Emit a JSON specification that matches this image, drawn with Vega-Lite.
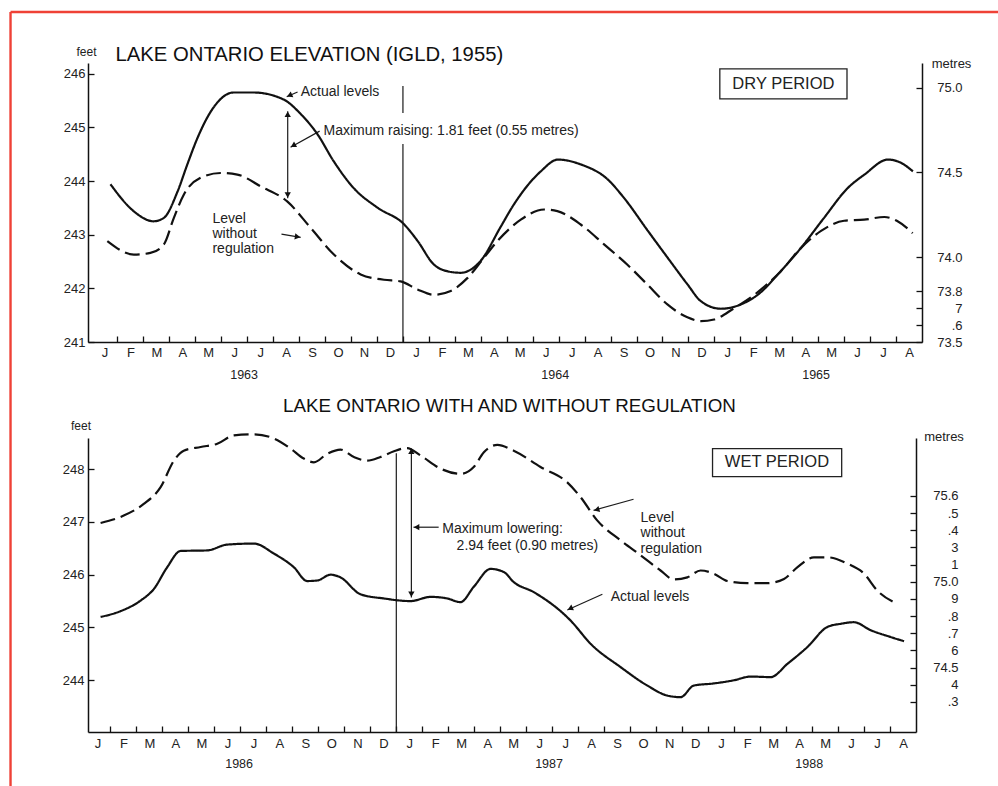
{
  "$schema": "https://vega.github.io/schema/vega-lite/v6.json",
  "padding": {"left": 9, "top": 10, "right": 0, "bottom": 0},
  "background": "white",
  "spacing": 96,
  "bounds": "flush",
  "config": {
    "font": "Liberation Sans",
    "view": {"stroke": null},
    "axis": {
      "grid": false,
      "domainColor": "#111",
      "domainWidth": 1.5,
      "tickColor": "#111",
      "tickWidth": 1.3,
      "labelColor": "#222",
      "titleColor": "#222",
      "labelFont": "Liberation Sans",
      "titleFont": "Liberation Sans",
      "titleFontWeight": "normal",
      "labelFlush": false,
      "labelOverlap": false,
      "labelBound": false
    },
    "title": {"font": "Liberation Sans", "fontWeight": "normal", "color": "#111"}
  },
  "datasets": {
    "top_lines": [
      {"series": "Actual levels", "m": 0.73, "f": 243.94},
      {"series": "Actual levels", "m": 1.62, "f": 243.44},
      {"series": "Actual levels", "m": 2.39, "f": 243.25},
      {"series": "Actual levels", "m": 2.78, "f": 243.31},
      {"series": "Actual levels", "m": 3.32, "f": 243.81},
      {"series": "Actual levels", "m": 3.7, "f": 244.32},
      {"series": "Actual levels", "m": 4.09, "f": 244.81},
      {"series": "Actual levels", "m": 4.7, "f": 245.37},
      {"series": "Actual levels", "m": 5.47, "f": 245.65},
      {"series": "Actual levels", "m": 6.25, "f": 245.65},
      {"series": "Actual levels", "m": 7.4, "f": 245.52},
      {"series": "Actual levels", "m": 8.06, "f": 245.25},
      {"series": "Actual levels", "m": 8.71, "f": 244.87},
      {"series": "Actual levels", "m": 9.33, "f": 244.37},
      {"series": "Actual levels", "m": 10.1, "f": 243.87},
      {"series": "Actual levels", "m": 11.03, "f": 243.5},
      {"series": "Actual levels", "m": 12.03, "f": 243.2},
      {"series": "Actual levels", "m": 12.57, "f": 242.88},
      {"series": "Actual levels", "m": 13.18, "f": 242.45},
      {"series": "Actual levels", "m": 13.7, "f": 242.32},
      {"series": "Actual levels", "m": 14.22, "f": 242.29},
      {"series": "Actual levels", "m": 14.99, "f": 242.51},
      {"series": "Actual levels", "m": 15.77, "f": 243.15},
      {"series": "Actual levels", "m": 16.27, "f": 243.56},
      {"series": "Actual levels", "m": 17.31, "f": 244.18},
      {"series": "Actual levels", "m": 17.97, "f": 244.4},
      {"series": "Actual levels", "m": 18.85, "f": 244.31},
      {"series": "Actual levels", "m": 19.89, "f": 244.03},
      {"series": "Actual levels", "m": 20.51, "f": 243.69},
      {"series": "Actual levels", "m": 21.44, "f": 243.07},
      {"series": "Actual levels", "m": 22.2, "f": 242.57},
      {"series": "Actual levels", "m": 22.97, "f": 242.07},
      {"series": "Actual levels", "m": 23.48, "f": 241.76},
      {"series": "Actual levels", "m": 24.25, "f": 241.62},
      {"series": "Actual levels", "m": 25.02, "f": 241.7},
      {"series": "Actual levels", "m": 25.67, "f": 241.88},
      {"series": "Actual levels", "m": 26.56, "f": 242.32},
      {"series": "Actual levels", "m": 27.33, "f": 242.75},
      {"series": "Actual levels", "m": 28.22, "f": 243.31},
      {"series": "Actual levels", "m": 29.14, "f": 243.87},
      {"series": "Actual levels", "m": 29.78, "f": 244.12},
      {"series": "Actual levels", "m": 30.69, "f": 244.4},
      {"series": "Actual levels", "m": 31.19, "f": 244.34},
      {"series": "Actual levels", "m": 31.65, "f": 244.18},
      {"series": "Level without regulation", "m": 0.61, "f": 242.88},
      {"series": "Level without regulation", "m": 1.63, "f": 242.63},
      {"series": "Level without regulation", "m": 2.27, "f": 242.66},
      {"series": "Level without regulation", "m": 2.79, "f": 242.82},
      {"series": "Level without regulation", "m": 3.17, "f": 243.31},
      {"series": "Level without regulation", "m": 3.56, "f": 243.75},
      {"series": "Level without regulation", "m": 4.2, "f": 244.06},
      {"series": "Level without regulation", "m": 4.97, "f": 244.15},
      {"series": "Level without regulation", "m": 5.62, "f": 244.12},
      {"series": "Level without regulation", "m": 6.52, "f": 243.9},
      {"series": "Level without regulation", "m": 7.54, "f": 243.62},
      {"series": "Level without regulation", "m": 8.44, "f": 243.13},
      {"series": "Level without regulation", "m": 9.34, "f": 242.63},
      {"series": "Level without regulation", "m": 10.37, "f": 242.26},
      {"series": "Level without regulation", "m": 11.27, "f": 242.16},
      {"series": "Level without regulation", "m": 11.91, "f": 242.13},
      {"series": "Level without regulation", "m": 12.56, "f": 241.98},
      {"series": "Level without regulation", "m": 13.2, "f": 241.88},
      {"series": "Level without regulation", "m": 13.84, "f": 241.95},
      {"series": "Level without regulation", "m": 14.48, "f": 242.19},
      {"series": "Level without regulation", "m": 15.12, "f": 242.57},
      {"series": "Level without regulation", "m": 15.64, "f": 242.88},
      {"series": "Level without regulation", "m": 16.54, "f": 243.28},
      {"series": "Level without regulation", "m": 17.44, "f": 243.47},
      {"series": "Level without regulation", "m": 17.95, "f": 243.44},
      {"series": "Level without regulation", "m": 18.85, "f": 243.19},
      {"series": "Level without regulation", "m": 19.75, "f": 242.82},
      {"series": "Level without regulation", "m": 20.65, "f": 242.44},
      {"series": "Level without regulation", "m": 21.42, "f": 242.07},
      {"series": "Level without regulation", "m": 22.19, "f": 241.7},
      {"series": "Level without regulation", "m": 22.96, "f": 241.46},
      {"series": "Level without regulation", "m": 23.48, "f": 241.39},
      {"series": "Level without regulation", "m": 23.99, "f": 241.42},
      {"series": "Level without regulation", "m": 24.76, "f": 241.63},
      {"series": "Level without regulation", "m": 25.54, "f": 241.88},
      {"series": "Level without regulation", "m": 26.56, "f": 242.32},
      {"series": "Level without regulation", "m": 27.33, "f": 242.75},
      {"series": "Level without regulation", "m": 28.11, "f": 243.07},
      {"series": "Level without regulation", "m": 29.0, "f": 243.26},
      {"series": "Level without regulation", "m": 29.77, "f": 243.28},
      {"series": "Level without regulation", "m": 30.55, "f": 243.33},
      {"series": "Level without regulation", "m": 31.06, "f": 243.25},
      {"series": "Level without regulation", "m": 31.64, "f": 243.03}
    ],
    "bottom_lines": [
      {"series": "Actual levels", "m": 0.62, "f": 245.2},
      {"series": "Actual levels", "m": 1.39, "f": 245.31},
      {"series": "Actual levels", "m": 2.16, "f": 245.51},
      {"series": "Actual levels", "m": 2.67, "f": 245.73},
      {"series": "Actual levels", "m": 3.18, "f": 246.14},
      {"series": "Actual levels", "m": 3.7, "f": 246.45},
      {"series": "Actual levels", "m": 4.72, "f": 246.46},
      {"series": "Actual levels", "m": 5.49, "f": 246.57},
      {"series": "Actual levels", "m": 6.52, "f": 246.59},
      {"series": "Actual levels", "m": 7.29, "f": 246.4},
      {"series": "Actual levels", "m": 8.06, "f": 246.14},
      {"series": "Actual levels", "m": 8.57, "f": 245.88},
      {"series": "Actual levels", "m": 8.96, "f": 245.89},
      {"series": "Actual levels", "m": 9.47, "f": 246.0},
      {"series": "Actual levels", "m": 9.85, "f": 245.95},
      {"series": "Actual levels", "m": 10.62, "f": 245.63},
      {"series": "Actual levels", "m": 11.52, "f": 245.55},
      {"series": "Actual levels", "m": 12.55, "f": 245.5},
      {"series": "Actual levels", "m": 13.32, "f": 245.58},
      {"series": "Actual levels", "m": 13.96, "f": 245.55},
      {"series": "Actual levels", "m": 14.47, "f": 245.48},
      {"series": "Actual levels", "m": 14.98, "f": 245.77},
      {"series": "Actual levels", "m": 15.63, "f": 246.11},
      {"series": "Actual levels", "m": 16.14, "f": 246.05},
      {"series": "Actual levels", "m": 16.52, "f": 245.86},
      {"series": "Actual levels", "m": 17.29, "f": 245.67},
      {"series": "Actual levels", "m": 18.71, "f": 245.13},
      {"series": "Actual levels", "m": 19.48, "f": 244.69},
      {"series": "Actual levels", "m": 20.63, "f": 244.25},
      {"series": "Actual levels", "m": 21.66, "f": 243.9},
      {"series": "Actual levels", "m": 22.43, "f": 243.71},
      {"series": "Actual levels", "m": 22.94, "f": 243.68},
      {"series": "Actual levels", "m": 23.45, "f": 243.9},
      {"series": "Actual levels", "m": 24.22, "f": 243.94},
      {"series": "Actual levels", "m": 24.99, "f": 244.0},
      {"series": "Actual levels", "m": 25.64, "f": 244.07},
      {"series": "Actual levels", "m": 26.41, "f": 244.06},
      {"series": "Actual levels", "m": 27.05, "f": 244.31},
      {"series": "Actual levels", "m": 27.82, "f": 244.63},
      {"series": "Actual levels", "m": 28.59, "f": 245.01},
      {"series": "Actual levels", "m": 29.1, "f": 245.07},
      {"series": "Actual levels", "m": 29.61, "f": 245.1},
      {"series": "Actual levels", "m": 30.25, "f": 244.95},
      {"series": "Actual levels", "m": 31.02, "f": 244.82},
      {"series": "Actual levels", "m": 31.54, "f": 244.74},
      {"series": "Level without regulation", "m": 0.62, "f": 246.98},
      {"series": "Level without regulation", "m": 1.51, "f": 247.12},
      {"series": "Level without regulation", "m": 2.28, "f": 247.34},
      {"series": "Level without regulation", "m": 2.93, "f": 247.66},
      {"series": "Level without regulation", "m": 3.44, "f": 248.16},
      {"series": "Level without regulation", "m": 3.82, "f": 248.35},
      {"series": "Level without regulation", "m": 4.47, "f": 248.42},
      {"series": "Level without regulation", "m": 5.11, "f": 248.48},
      {"series": "Level without regulation", "m": 5.75, "f": 248.64},
      {"series": "Level without regulation", "m": 6.52, "f": 248.66},
      {"series": "Level without regulation", "m": 7.29, "f": 248.58},
      {"series": "Level without regulation", "m": 7.93, "f": 248.39},
      {"series": "Level without regulation", "m": 8.44, "f": 248.2},
      {"series": "Level without regulation", "m": 8.83, "f": 248.13},
      {"series": "Level without regulation", "m": 9.34, "f": 248.29},
      {"series": "Level without regulation", "m": 9.85, "f": 248.37},
      {"series": "Level without regulation", "m": 10.37, "f": 248.23},
      {"series": "Level without regulation", "m": 10.88, "f": 248.16},
      {"series": "Level without regulation", "m": 11.39, "f": 248.23},
      {"series": "Level without regulation", "m": 11.91, "f": 248.34},
      {"series": "Level without regulation", "m": 12.42, "f": 248.4},
      {"series": "Level without regulation", "m": 12.93, "f": 248.26},
      {"series": "Level without regulation", "m": 13.7, "f": 248.01},
      {"series": "Level without regulation", "m": 14.47, "f": 247.91},
      {"series": "Level without regulation", "m": 14.98, "f": 248.04},
      {"series": "Level without regulation", "m": 15.37, "f": 248.32},
      {"series": "Level without regulation", "m": 15.89, "f": 248.46},
      {"series": "Level without regulation", "m": 16.52, "f": 248.35},
      {"series": "Level without regulation", "m": 17.55, "f": 248.04},
      {"series": "Level without regulation", "m": 18.58, "f": 247.75},
      {"series": "Level without regulation", "m": 19.09, "f": 247.47},
      {"series": "Level without regulation", "m": 19.73, "f": 247.03},
      {"series": "Level without regulation", "m": 20.63, "f": 246.65},
      {"series": "Level without regulation", "m": 21.4, "f": 246.37},
      {"series": "Level without regulation", "m": 22.17, "f": 246.08},
      {"series": "Level without regulation", "m": 22.68, "f": 245.91},
      {"series": "Level without regulation", "m": 23.2, "f": 245.95},
      {"series": "Level without regulation", "m": 23.71, "f": 246.08},
      {"series": "Level without regulation", "m": 24.22, "f": 246.02},
      {"series": "Level without regulation", "m": 24.74, "f": 245.88},
      {"series": "Level without regulation", "m": 25.51, "f": 245.84},
      {"series": "Level without regulation", "m": 26.28, "f": 245.84},
      {"series": "Level without regulation", "m": 26.92, "f": 245.92},
      {"series": "Level without regulation", "m": 27.43, "f": 246.14},
      {"series": "Level without regulation", "m": 28.07, "f": 246.33},
      {"series": "Level without regulation", "m": 28.59, "f": 246.33},
      {"series": "Level without regulation", "m": 29.36, "f": 246.21},
      {"series": "Level without regulation", "m": 30.0, "f": 246.02},
      {"series": "Level without regulation", "m": 30.51, "f": 245.7},
      {"series": "Level without regulation", "m": 31.28, "f": 245.45}
    ]
  },
  "vconcat": [
    {
      "width": 834,
      "height": 279,
      "title": {"text": "LAKE ONTARIO ELEVATION (IGLD, 1955)", "anchor": "start", "frame": "group", "dx": 27.5, "dy": 54.5, "fontSize": 20.3, "offset": 0},
      "resolve": {"scale": {"y": "independent"}, "axis": {"x": "independent"}},
      "layer": [
        {
          "encoding": {
            "x": {"field": "m", "type": "quantitative", "scale": {"domain": [-0.135, 32], "nice": false, "zero": false},
              "axis": {"orient": "bottom", "title": null,
                "values": [0.5,1.5,2.5,3.5,4.5,5.5,6.5,7.5,8.5,9.5,10.5,11.5,12.5,13.5,14.5,15.5,16.5,17.5,18.5,19.5,20.5,21.5,22.5,23.5,24.5,25.5,26.5,27.5,28.5,29.5,30.5,31.5],
                "tickOffset": -12.97, "labelOffset": 12.97,
                "labelExpr": "substring('JFMAMJJASOND', floor(datum.value) % 12, floor(datum.value) % 12 + 1)",
                "tickSize": -6, "tickOpacity": {"condition": {"test": "datum.value < 1", "value": 0}, "value": 1},
                "labelPadding": 10, "labelFontSize": 13}},
            "y": {"field": "f", "type": "quantitative", "scale": {"domain": [241, 246.2], "nice": false, "zero": false},
              "axis": {"orient": "left", "values": [241,242,243,244,245,246], "format": "d", "tickSize": -6, "labelPadding": 9, "labelFontSize": 13,
                "title": "feet", "titleAngle": 0, "titleAlign": "center", "titleBaseline": "middle", "titleX": -2, "titleY": -12, "titleFontSize": 12}}
          },
          "layer": [
            {
              "data": {"values": [
                {"m": -3.12, "f": 247.15, "m2": 35.1, "f2": 247.15},
                {"m": -3.12, "f": 247.15, "m2": -3.12, "f2": 232.6}
              ]},
              "mark": {"type": "rule", "color": "#ef4136", "strokeWidth": 2.4},
              "encoding": {"x2": {"field": "m2"}, "y2": {"field": "f2"}}
            },
            {
              "data": {"values": [
                {"m": 12, "f": 245.77, "m2": 12, "f2": 245.27},
                {"m": 12, "f": 244.69, "m2": 12, "f2": 241},
                {"m": 7.56, "f": 245.3, "m2": 7.56, "f2": 243.68},
                {"m": 7.94, "f": 245.66, "m2": 7.52, "f2": 245.57},
                {"m": 8.79, "f": 244.93, "m2": 7.67, "f2": 244.63},
                {"m": 7.32, "f": 243.01, "m2": 8.06, "f2": 242.95}
              ]},
              "mark": {"type": "rule", "color": "#1a1a1a", "strokeWidth": 1.2},
              "encoding": {"x2": {"field": "m2"}, "y2": {"field": "f2"}}
            },
            {
              "data": {"name": "top_lines"},
              "mark": {"type": "line", "interpolate": "monotone", "strokeWidth": 2.2, "color": "#111"},
              "encoding": {
                "strokeDash": {"field": "series", "type": "nominal", "scale": {"domain": ["Actual levels", "Level without regulation"], "range": [[1, 0], [15, 6]]}, "legend": null}
              }
            },
            {"data": {"values": [{"m": 7.56, "f": 245.245}]}, "mark": {"type": "point", "shape": "triangle-up", "filled": true, "size": 40, "color": "#111", "opacity": 1}},
            {"data": {"values": [{"m": 7.56, "f": 243.74}]}, "mark": {"type": "point", "shape": "triangle-up", "angle": 180, "filled": true, "size": 40, "color": "#111", "opacity": 1}},
            {"data": {"values": [{"m": 7.63, "f": 245.595}]}, "mark": {"type": "point", "shape": "triangle-up", "angle": 245.6, "filled": true, "size": 40, "color": "#111", "opacity": 1}},
            {"data": {"values": [{"m": 7.77, "f": 244.66}]}, "mark": {"type": "point", "shape": "triangle-up", "angle": 241, "filled": true, "size": 40, "color": "#111", "opacity": 1}},
            {"data": {"values": [{"m": 7.94, "f": 242.96}]}, "mark": {"type": "point", "shape": "triangle-up", "angle": 99, "filled": true, "size": 40, "color": "#111", "opacity": 1}},
            {
              "data": {"values": [
                {"m": 8.06, "f": 245.66, "label": "Actual levels"},
                {"m": 8.94, "f": 244.93, "label": "Maximum raising: 1.81 feet (0.55 metres)"},
                {"m": 4.66, "f": 243.3, "label": "Level\nwithout\nregulation"}
              ]},
              "mark": {"type": "text", "align": "left", "baseline": "middle", "fontSize": 14, "lineHeight": 15, "lineBreak": "\n", "color": "#222"},
              "encoding": {"text": {"field": "label"}}
            },
            {
              "data": {"values": [{"m": 24.21, "m2": 29.11, "f": 246.09, "f2": 245.53}]},
              "mark": {"type": "rect", "fill": null, "fillOpacity": 0, "stroke": "#222", "strokeWidth": 1.3},
              "encoding": {"x2": {"field": "m2"}, "y2": {"field": "f2"}}
            },
            {
              "data": {"values": [{"m": 26.66, "f": 245.81, "label": "DRY PERIOD"}]},
              "mark": {"type": "text", "align": "center", "baseline": "middle", "fontSize": 16.5, "color": "#222"},
              "encoding": {"text": {"field": "label"}}
            }
          ]
        },
        {
          "mark": {"type": "rule", "opacity": 0},
          "encoding": {
            "y": {"datum": 75, "type": "quantitative", "scale": {"domain": [73.5, 75.146], "nice": false, "zero": false},
              "axis": {"orient": "right", "values": [75.0, 74.5, 74.0, 73.8, 73.7, 73.6, 73.5],
                "labelExpr": "round(datum.value*10) == 737 ? '7' : round(datum.value*10) == 736 ? '.6' : format(datum.value, '.1f')",
                "labelAlign": "right", "labelPadding": 46, "labelFontSize": 13, "tickSize": -6,
                "title": "metres", "titleAngle": 0, "titleAlign": "center", "titleBaseline": "middle", "titleX": 29, "titleY": 0, "titleFontSize": 13}}
          }
        },
        {
          "mark": {"type": "rule", "opacity": 0},
          "encoding": {
            "x": {"datum": 16, "type": "quantitative", "scale": {"domain": [-0.135, 32], "nice": false, "zero": false},
              "axis": {"orient": "bottom", "title": null, "values": [5.86, 17.85, 27.9],
                "labelExpr": "datum.value < 10 ? '1963' : datum.value < 20 ? '1964' : '1965'",
                "ticks": false, "domain": false, "labelPadding": 26, "labelFontSize": 12.5}}
          }
        }
      ]
    },
    {
      "width": 828,
      "height": 294,
      "title": {"text": "LAKE ONTARIO WITH AND WITHOUT REGULATION", "anchor": "middle", "frame": "group", "dx": 7.5, "dy": -3, "fontSize": 18.8, "offset": 0},
      "resolve": {"scale": {"y": "independent"}, "axis": {"x": "independent"}},
      "layer": [
        {
          "encoding": {
            "x": {"field": "m", "type": "quantitative", "scale": {"domain": [0.135, 32], "nice": false, "zero": false},
              "axis": {"orient": "bottom", "title": null,
                "values": [0.5,1.5,2.5,3.5,4.5,5.5,6.5,7.5,8.5,9.5,10.5,11.5,12.5,13.5,14.5,15.5,16.5,17.5,18.5,19.5,20.5,21.5,22.5,23.5,24.5,25.5,26.5,27.5,28.5,29.5,30.5,31.5],
                "tickOffset": -12.99, "labelOffset": 12.99,
                "labelExpr": "substring('JFMAMJJASOND', floor(datum.value) % 12, floor(datum.value) % 12 + 1)",
                "tickSize": -6, "tickOpacity": {"condition": {"test": "datum.value < 1", "value": 0}, "value": 1},
                "labelPadding": 11, "labelFontSize": 13}},
            "y": {"field": "f", "type": "quantitative", "scale": {"domain": [243.02, 248.59], "nice": false, "zero": false},
              "axis": {"orient": "left", "values": [244,245,246,247,248], "format": "d", "tickSize": -6, "labelPadding": 10, "labelFontSize": 13,
                "title": "feet", "titleAngle": 0, "titleAlign": "center", "titleBaseline": "middle", "titleX": -7.5, "titleY": -13, "titleFontSize": 12}}
          },
          "layer": [
            {
              "data": {"values": [
                {"m": 12, "f": 248.3, "m2": 12, "f2": 243.02},
                {"m": 12.58, "f": 248.39, "m2": 12.58, "f2": 245.57},
                {"m": 13.63, "f": 246.9, "m2": 12.66, "f2": 246.9},
                {"m": 21.13, "f": 247.43, "m2": 19.59, "f2": 247.22},
                {"m": 19.93, "f": 245.63, "m2": 18.58, "f2": 245.33}
              ]},
              "mark": {"type": "rule", "color": "#1a1a1a", "strokeWidth": 1.2},
              "encoding": {"x2": {"field": "m2"}, "y2": {"field": "f2"}}
            },
            {
              "data": {"name": "bottom_lines"},
              "mark": {"type": "line", "interpolate": "monotone", "strokeWidth": 2.2, "color": "#111"},
              "encoding": {
                "strokeDash": {"field": "series", "type": "nominal", "scale": {"domain": ["Actual levels", "Level without regulation"], "range": [[1, 0], [14, 7]]}, "legend": null}
              }
            },
            {"data": {"values": [{"m": 12.58, "f": 248.34}]}, "mark": {"type": "point", "shape": "triangle-up", "filled": true, "size": 40, "color": "#111", "opacity": 1}},
            {"data": {"values": [{"m": 12.58, "f": 245.63}]}, "mark": {"type": "point", "shape": "triangle-up", "angle": 180, "filled": true, "size": 40, "color": "#111", "opacity": 1}},
            {"data": {"values": [{"m": 12.78, "f": 246.9}]}, "mark": {"type": "point", "shape": "triangle-up", "angle": 270, "filled": true, "size": 40, "color": "#111", "opacity": 1}},
            {"data": {"values": [{"m": 19.71, "f": 247.23}]}, "mark": {"type": "point", "shape": "triangle-up", "angle": 254.6, "filled": true, "size": 40, "color": "#111", "opacity": 1}},
            {"data": {"values": [{"m": 18.69, "f": 245.36}]}, "mark": {"type": "point", "shape": "triangle-up", "angle": 245.4, "filled": true, "size": 40, "color": "#111", "opacity": 1}},
            {
              "data": {"values": [
                {"m": 13.77, "f": 246.87, "label": "Maximum lowering:"},
                {"m": 14.32, "f": 246.55, "label": "2.94 feet (0.90 metres)"},
                {"m": 21.4, "f": 247.08, "label": "Level\nwithout\nregulation"},
                {"m": 20.25, "f": 245.58, "label": "Actual levels"}
              ]},
              "mark": {"type": "text", "align": "left", "baseline": "middle", "fontSize": 14, "lineHeight": 15.5, "lineBreak": "\n", "color": "#222"},
              "encoding": {"text": {"field": "label"}}
            },
            {
              "data": {"values": [{"m": 24.17, "m2": 29.14, "f": 248.39, "f2": 247.86}]},
              "mark": {"type": "rect", "fill": null, "fillOpacity": 0, "stroke": "#222", "strokeWidth": 1.3},
              "encoding": {"x2": {"field": "m2"}, "y2": {"field": "f2"}}
            },
            {
              "data": {"values": [{"m": 26.65, "f": 248.13, "label": "WET PERIOD"}]},
              "mark": {"type": "text", "align": "center", "baseline": "middle", "fontSize": 16.5, "color": "#222"},
              "encoding": {"text": {"field": "label"}}
            }
          ]
        },
        {
          "mark": {"type": "rule", "opacity": 0},
          "encoding": {
            "y": {"datum": 75, "type": "quantitative", "scale": {"domain": [74.124, 75.838], "nice": false, "zero": false},
              "axis": {"orient": "right", "values": [75.5, 75.4, 75.3, 75.2, 75.1, 75.0, 74.9, 74.8, 74.7, 74.6, 74.5, 74.4, 74.3],
                "labelExpr": "['75.6','.5','.4','3','1','75.0','9','.8','.7','6','74.5','4','.3'][755 - round(datum.value*10)]",
                "labelAlign": "right", "labelPadding": 48, "labelFontSize": 13, "tickSize": -6,
                "title": "metres", "titleAngle": 0, "titleAlign": "center", "titleBaseline": "middle", "titleX": 27.5, "titleY": -2, "titleFontSize": 13}}
          }
        },
        {
          "mark": {"type": "rule", "opacity": 0},
          "encoding": {
            "x": {"datum": 16, "type": "quantitative", "scale": {"domain": [0.135, 32], "nice": false, "zero": false},
              "axis": {"orient": "bottom", "title": null, "values": [5.93, 17.86, 27.87],
                "labelExpr": "datum.value < 10 ? '1986' : datum.value < 20 ? '1987' : '1988'",
                "ticks": false, "domain": false, "labelPadding": 25, "labelFontSize": 12.5}}
          }
        }
      ]
    }
  ]
}
